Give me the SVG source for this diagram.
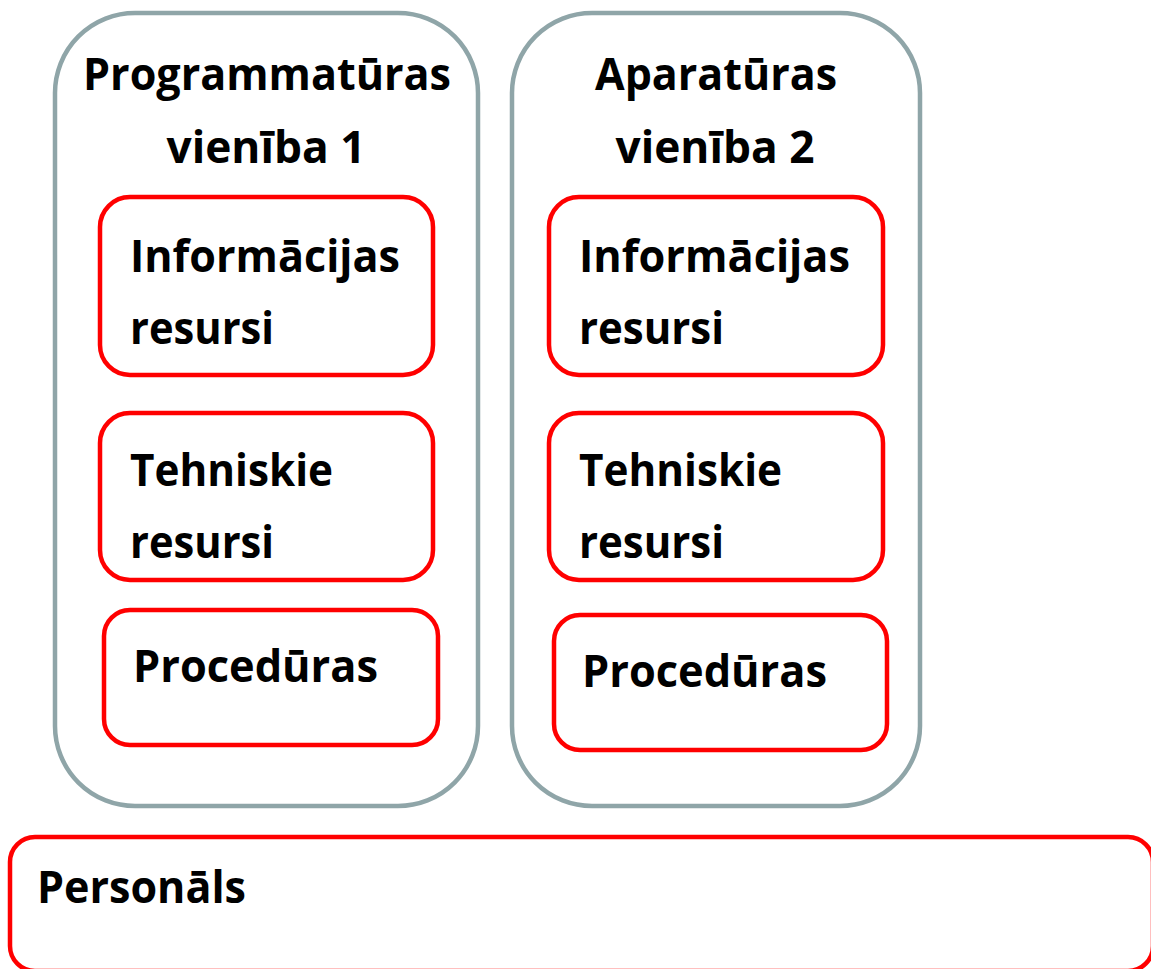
<svg xmlns="http://www.w3.org/2000/svg" width="1151" height="969" viewBox="0 0 1151 969">
<style>
.outer{fill:#fff;stroke:#8fa5a8;stroke-width:4.5}
.inner{fill:#fff;stroke:#ff0000;stroke-width:4.5}
text{font-family:"Open Sans","Liberation Sans",sans-serif;font-weight:bold;font-size:45px;fill:#000}
</style>
<rect width="1151" height="969" fill="#fff"/>
<g id="unit1">
<rect class="outer" x="55" y="13" width="423" height="793" rx="80" ry="80"/>
<text x="267" y="90" text-anchor="middle" textLength="368" lengthAdjust="spacingAndGlyphs">Programmatūras</text>
<text x="266" y="163" text-anchor="middle" textLength="199" lengthAdjust="spacingAndGlyphs">vienība 1</text>
</g>
<g id="unit2">
<rect class="outer" x="512" y="13" width="408" height="793" rx="80" ry="80"/>
<text x="716" y="90" text-anchor="middle" textLength="242" lengthAdjust="spacingAndGlyphs">Aparatūras</text>
<text x="715" y="163" text-anchor="middle" textLength="199" lengthAdjust="spacingAndGlyphs">vienība 2</text>
</g>
<g id="info1">
<rect class="inner" x="100" y="197" width="333" height="178" rx="30" ry="30"/>
<text x="130" y="272" textLength="270" lengthAdjust="spacingAndGlyphs">Informācijas</text>
<text x="130" y="344" textLength="144" lengthAdjust="spacingAndGlyphs">resursi</text>
</g>
<g id="tech1">
<rect class="inner" x="100" y="413" width="333" height="167" rx="30" ry="30"/>
<text x="130" y="486" textLength="203" lengthAdjust="spacingAndGlyphs">Tehniskie</text>
<text x="130" y="558" textLength="144" lengthAdjust="spacingAndGlyphs">resursi</text>
</g>
<g id="proc1">
<rect class="inner" x="104" y="610" width="334" height="135" rx="26" ry="26"/>
<text x="133" y="682" textLength="245" lengthAdjust="spacingAndGlyphs">Procedūras</text>
</g>
<g id="info2">
<rect class="inner" x="549" y="197" width="334" height="178" rx="30" ry="30"/>
<text x="579" y="272" textLength="271" lengthAdjust="spacingAndGlyphs">Informācijas</text>
<text x="579" y="344" textLength="145" lengthAdjust="spacingAndGlyphs">resursi</text>
</g>
<g id="tech2">
<rect class="inner" x="549" y="413" width="334" height="167" rx="30" ry="30"/>
<text x="579" y="486" textLength="203" lengthAdjust="spacingAndGlyphs">Tehniskie</text>
<text x="579" y="558" textLength="145" lengthAdjust="spacingAndGlyphs">resursi</text>
</g>
<g id="proc2">
<rect class="inner" x="554" y="615" width="333" height="135" rx="26" ry="26"/>
<text x="582" y="687" textLength="245" lengthAdjust="spacingAndGlyphs">Procedūras</text>
</g>
<g id="personals">
<rect class="inner" x="10" y="837" width="1143" height="134" rx="25" ry="25"/>
<text x="37" y="903" textLength="209" lengthAdjust="spacingAndGlyphs">Personāls</text>
</g>
<g id="connectors"/>
</svg>
